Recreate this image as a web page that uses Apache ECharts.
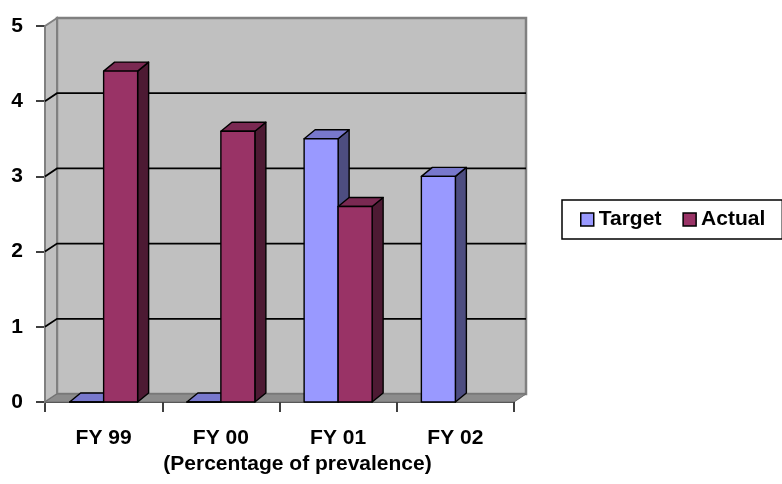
<!DOCTYPE html>
<html>
<head>
<meta charset="utf-8">
<script src="https://cdn.jsdelivr.net/npm/echarts@6/dist/echarts.min.js"></script>
<style>
  html, body { margin: 0; padding: 0; background: #ffffff; }
  #chart { width: 782px; height: 484px; }
</style>
</head>
<body>
<div id="chart"></div>
<script>
// Chart data
const categories = ['FY 99', 'FY 00', 'FY 01', 'FY 02'];
const targetValues = [0, 0, 3.5, 3.0];
const actualValues = [4.4, 3.6, 2.6, null];
const yTickValues = [0, 1, 2, 3, 4, 5];
const seriesNames = ['Target', 'Actual'];

// 3D look: depth offsets for the box walls and for the columns
const WALL_DX = 12, WALL_DY = -8;
const BAR_DX = 11, BAR_DY = -9;
const BAR_FRACTION = 0.29; // share of a category band taken by one column

const FONT = '"Liberation Sans", Arial, sans-serif';
const FONT_SIZE = 21;

const palette = {
  Target: { front: '#9999FF', top: '#7878CC', side: '#4D4D80' },
  Actual: { front: '#993366', top: '#7A2952', side: '#4D1A33' }
};

// Back wall, side wall, floor and gridlines drawn in the plot's depth
function renderWalls(params, api) {
  const cs = params.coordSys;
  const x0 = cs.x, x1 = cs.x + cs.width;
  const y0 = cs.y, y1 = cs.y + cs.height;
  const children = [
    { type: 'polygon', shape: { points: [[x0 + WALL_DX, y0 + WALL_DY], [x1 + WALL_DX, y0 + WALL_DY], [x1 + WALL_DX, y1 + WALL_DY], [x0 + WALL_DX, y1 + WALL_DY]] },
      style: { fill: '#C0C0C0', stroke: '#808080', lineWidth: 2.5 } },
    { type: 'polygon', shape: { points: [[x0, y0], [x0 + WALL_DX, y0 + WALL_DY], [x0 + WALL_DX, y1 + WALL_DY], [x0, y1]] },
      style: { fill: '#C0C0C0', stroke: '#808080', lineWidth: 2 } },
    { type: 'polygon', shape: { points: [[x0, y1], [x0 + WALL_DX, y1 + WALL_DY], [x1 + WALL_DX, y1 + WALL_DY], [x1, y1]] },
      style: { fill: '#8C8C8C', stroke: '#707070', lineWidth: 1 } }
  ];
  yTickValues.forEach(function (v) {
    if (v === yTickValues[0] || v === yTickValues[yTickValues.length - 1]) return;
    const y = api.coord([0, v])[1];
    children.push({
      type: 'polyline',
      shape: { points: [[x0, y], [x0 + WALL_DX, y + WALL_DY], [x1 + WALL_DX, y + WALL_DY]] },
      style: { stroke: '#000', lineWidth: 1.8, fill: null }
    });
  });
  return { type: 'group', children: children };
}

// Column with front, top and right side faces; slot -1 = left of centre, 0 = right
function makeColumnRenderer(slot, colors) {
  return function (params, api) {
    const v = api.value(1);
    if (v === null || v === undefined || isNaN(v)) return null;
    const idx = api.value(0);
    const base = api.coord([idx, 0]);
    const top = api.coord([idx, v]);
    const band = api.size([1, 0])[0];
    const w = band * BAR_FRACTION;
    const xl = base[0] + slot * w;
    const xr = xl + w;
    const yt = top[1], yb = base[1];
    const edge = { stroke: '#000', lineWidth: 1.4, lineJoin: 'round' };
    return {
      type: 'group',
      children: [
        { type: 'polygon', shape: { points: [[xr, yt], [xr + BAR_DX, yt + BAR_DY], [xr + BAR_DX, yb + BAR_DY], [xr, yb]] },
          style: Object.assign({ fill: colors.side }, edge) },
        { type: 'polygon', shape: { points: [[xl, yt], [xl + BAR_DX, yt + BAR_DY], [xr + BAR_DX, yt + BAR_DY], [xr, yt]] },
          style: Object.assign({ fill: colors.top }, edge) },
        { type: 'rect', shape: { x: xl, y: yt, width: w, height: yb - yt },
          style: Object.assign({ fill: colors.front }, edge) }
      ]
    };
  };
}

const chart = echarts.init(document.getElementById('chart'), null, { renderer: 'canvas' });

chart.setOption({
  animation: false,
  backgroundColor: '#ffffff',
  textStyle: { fontFamily: FONT },
  grid: { left: 45, right: 268, top: 26, bottom: 82, containLabel: false },
  legend: {
    data: seriesNames,
    orient: 'horizontal',
    left: 562,
    top: 200,
    width: 190,
    padding: [9, 17, 9, 18],
    itemGap: 21,
    itemWidth: 13,
    itemHeight: 13,
    icon: 'rect',
    backgroundColor: '#ffffff',
    borderColor: '#000',
    borderWidth: 1.5,
    borderRadius: 0,
    itemStyle: { borderColor: '#000', borderWidth: 1.5 },
    textStyle: { fontFamily: FONT, fontWeight: 'bold', fontSize: FONT_SIZE, color: '#000' }
  },
  xAxis: {
    type: 'category',
    data: categories,
    boundaryGap: true,
    axisLine: { show: true, lineStyle: { color: '#000', width: 1.5 } },
    axisTick: { show: true, length: 10, alignWithLabel: false, lineStyle: { color: '#000', width: 1.5 } },
    axisLabel: { margin: 26, fontFamily: FONT, fontWeight: 'bold', fontSize: FONT_SIZE, color: '#000' },
    splitLine: { show: false },
    name: '(Percentage of prevalence)',
    nameLocation: 'middle',
    nameGap: 49,
    nameTextStyle: { fontFamily: FONT, fontWeight: 'bold', fontSize: FONT_SIZE, color: '#000', padding: [0, 0, 0, 36] }
  },
  yAxis: {
    type: 'value',
    min: 0,
    max: 5,
    interval: 1,
    axisLine: { show: true, lineStyle: { color: '#000', width: 1.5 } },
    axisTick: { show: true, length: 9, lineStyle: { color: '#000', width: 1.5 } },
    axisLabel: { margin: 22, fontFamily: FONT, fontWeight: 'bold', fontSize: FONT_SIZE, color: '#000', padding: [0, 0, 4, 0] },
    splitLine: { show: false }
  },
  series: [
    {
      name: 'walls',
      type: 'custom',
      silent: true,
      z: 1,
      renderItem: renderWalls,
      encode: { x: 0, y: 1 },
      data: [[0, 0]]
    },
    {
      name: 'Target',
      type: 'custom',
      z: 2,
      itemStyle: { color: palette.Target.front },
      renderItem: makeColumnRenderer(-1, palette.Target),
      encode: { x: 0, y: 1 },
      data: targetValues.map(function (v, i) { return [i, v]; })
    },
    {
      name: 'Actual',
      type: 'custom',
      z: 3,
      itemStyle: { color: palette.Actual.front },
      renderItem: makeColumnRenderer(0, palette.Actual),
      encode: { x: 0, y: 1 },
      data: actualValues.map(function (v, i) { return [i, v]; })
    }
  ]
});
</script>
</body>
</html>
